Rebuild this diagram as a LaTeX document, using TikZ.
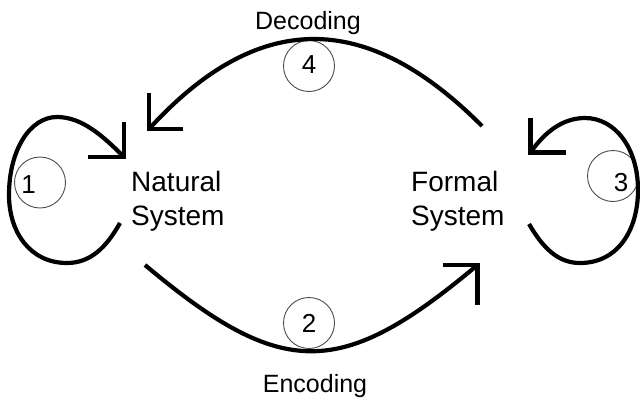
\documentclass[tikz,border=0pt]{standalone}
\usepackage{fontspec}
\setmainfont{Liberation Sans}
\usetikzlibrary{calc}
\begin{document}
\begin{tikzpicture}[x=1pt,y=-1pt,
  flow/.style={line width=4.2pt, line cap=butt},
  headline/.style={line width=4.6pt, line join=miter, line cap=butt},
  stepnum/.style={circle, draw=black!70, line width=0.9pt, minimum size=51pt, inner sep=0pt},
  numtext/.style={inner sep=0pt, font=\fontsize{26}{30}\selectfont},
  sysname/.style={align=left, inner sep=0pt, anchor=west, font=\fontsize{28}{34}\selectfont},
  flowlabel/.style={inner sep=0pt, anchor=base, font=\fontsize{25}{30}\selectfont}]
\useasboundingbox (0,0) rectangle (640,402);
\fill[white] (0,0) rectangle (640,402);

% the two systems
\node[sysname] (nat)  at (131,201) {Natural\\System};
\node[sysname] (form) at (411,201) {Formal\\System};

% labels of the two transfers
\node[flowlabel] (dec) at (308,29)  {Decoding};
\node[flowlabel] (enc) at (315,392) {Encoding};

% numbered steps
\node[stepnum, label={[numtext, xshift=-11.4pt, yshift=-2.5pt]center:1}] (s1) at (40,182.5) {};
\node[stepnum, label={[numtext]center:2}] (s2) at (309,323) {};
\node[stepnum, label={[numtext, xshift=8pt, yshift=-7pt]center:3}] (s3) at (613,176) {};
\node[stepnum, label={[numtext, yshift=1.5pt]center:4}] (s4) at (309,66) {};

% end points of the connectors
\coordinate (decA) at (482,126);
\coordinate (decB) at (149,129);
\coordinate (encA) at (145,265);
\coordinate (encB) at (477.5,265);
\coordinate (l1A) at (120,223);
\coordinate (l1B) at (124,157);
\coordinate (l3A) at (529,224);
\coordinate (l3B) at (530.5,152.5);

% decoding: formal -> natural
\draw[flow] (decA) .. controls (366,9.5) and (258,9.5) .. (decB);
\draw[headline] ($(decB)+(0,-36)$) -- (decB) -- ($(decB)+(34,0)$);

% encoding: natural -> formal
\draw[flow] (encA) .. controls (282,380) and (340.5,380) .. (encB);
\draw[headline] ($(encB)+(-34.5,0)$) -- (encB) -- ($(encB)+(0,40)$);

% loop on the natural system
\draw[flow] (l1A) .. controls (106,248) and (90,263) .. (67,263)
  .. controls (30,263) and (9,232) .. (9,195)
  .. controls (9,150) and (30,117) .. (57,117)
  .. controls (82,117) and (103,136) .. (l1B);
\draw[headline] ($(l1B)+(0,-35)$) -- (l1B) -- ($(l1B)+(-36,0)$);

% loop on the formal system
\draw[flow] (l3A) .. controls (543,248) and (558,263) .. (580,263)
  .. controls (618,263) and (638,230) .. (638,190)
  .. controls (638,148) and (615,118) .. (585,118)
  .. controls (562,118) and (544,133) .. (l3B);
\draw[headline] ($(l3B)+(0,-34.5)$) -- (l3B) -- ($(l3B)+(35.5,0)$);
\end{tikzpicture}
\end{document}
